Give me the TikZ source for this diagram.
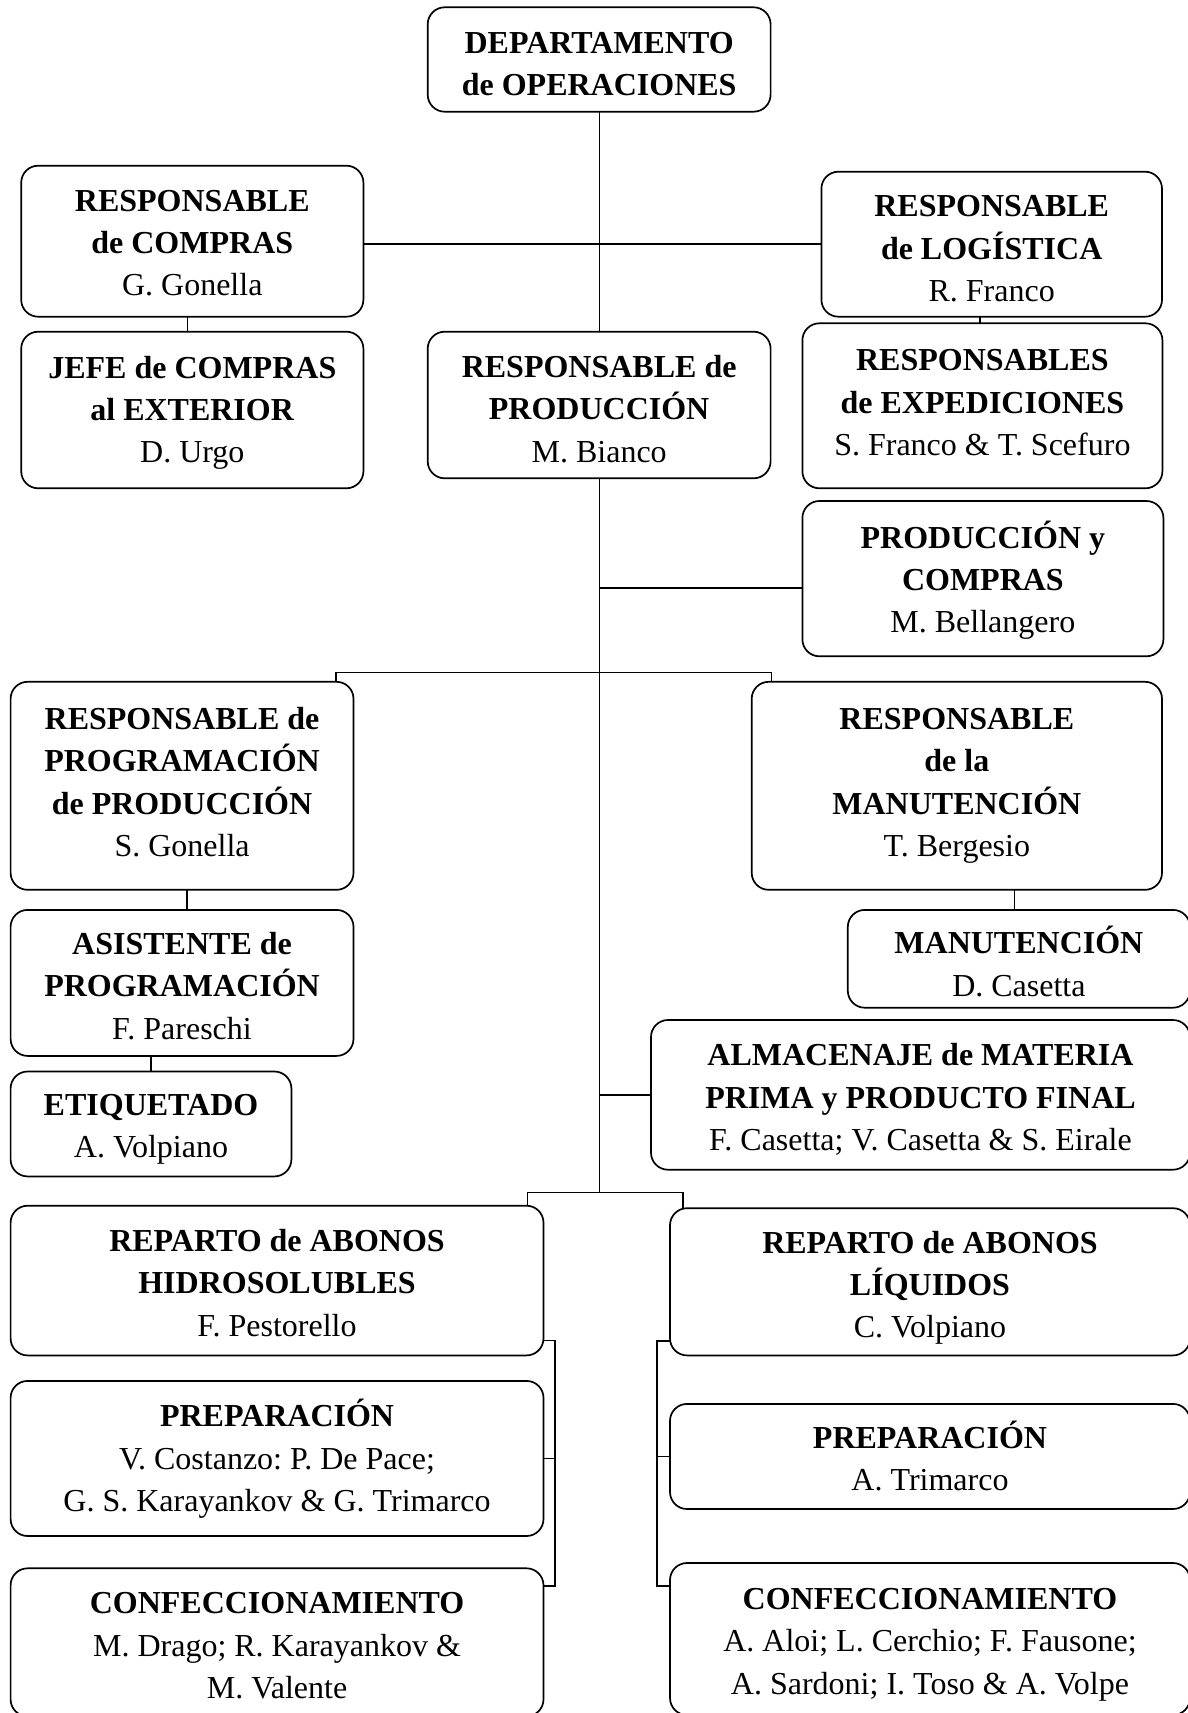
\documentclass[tikz,border=0pt]{standalone}
\usepackage{fontspec}
\setmainfont{Liberation Serif}
\usetikzlibrary{calc}
\begin{document}
\frenchspacing
\begin{tikzpicture}[x=1pt,y=-1pt,
  box/.style={draw, line width=1.7pt, rounded corners=17pt, inner sep=0pt, outer sep=0pt,
    align=center, anchor=north west, font=\fontsize{32}{42.3}\selectfont\frenchspacing, text depth=0pt},
  conn/.style={line width=1.3pt},
  thickconn/.style={line width=2.2pt}]
\fill[white] (0,0) rectangle (1187,1713);
\useasboundingbox (0,0) rectangle (1187,1713);

% boxes
\node[box, text height=71.9pt, minimum width=342.9pt, minimum height=104.4pt] (dep) at (427.7,7.3)
  {\textbf{DEPARTAMENTO}\\\textbf{de OPERACIONES}};
\node[box, text height=108.8pt, minimum width=342.2pt, minimum height=151pt] (compras) at (21.2,165.7)
  {\textbf{RESPONSABLE}\\\textbf{de COMPRAS}\\G. Gonella};
\node[box, text height=114.2pt, minimum width=340.6pt, minimum height=145pt] (log) at (821.4,171.7)
  {\textbf{RESPONSABLE}\\\textbf{de LOGÍSTICA}\\R. Franco};
\node[box, text height=105.6pt, minimum width=342.2pt, minimum height=156.6pt] (jefe) at (21.2,331.7)
  {\textbf{JEFE de COMPRAS}\\\textbf{al EXTERIOR}\\D. Urgo};
\node[box, text height=114.2pt, minimum width=342.9pt, minimum height=146.6pt] (prod) at (427.7,331.7)
  {\textbf{RESPONSABLE de}\\\textbf{PRODUCCIÓN}\\M. Bianco};
\node[box, text height=99pt, minimum width=360pt, minimum height=165pt] (exp) at (802.4,323.3)
  {\textbf{RESPONSABLES}\\\textbf{de EXPEDICIONES}\\S. Franco \& T. Scefuro};
\node[box, text height=108.2pt, minimum width=361pt, minimum height=155.3pt] (pyc) at (802.4,501)
  {\textbf{PRODUCCIÓN y}\\\textbf{COMPRAS}\\M. Bellangero};
\node[box, text height=141.3pt, minimum width=342.9pt, minimum height=208pt] (prog) at (10.6,681.8)
  {\textbf{RESPONSABLE de}\\\textbf{PROGRAMACIÓN}\\\textbf{de PRODUCCIÓN}\\S. Gonella};
\node[box, text height=141.3pt, minimum width=410.3pt, minimum height=208pt] (resman) at (751.7,681.8)
  {\textbf{RESPONSABLE}\\\textbf{de la}\\\textbf{MANUTENCIÓN}\\T. Bergesio};
\node[box, text height=112.2pt, minimum width=342.9pt, minimum height=146pt] (asist) at (10.6,909.9)
  {\textbf{ASISTENTE de}\\\textbf{PROGRAMACIÓN}\\F. Pareschi};
\node[box, text height=74.7pt, minimum width=342.2pt, minimum height=97.8pt] (manut) at (847.8,909.9)
  {\textbf{MANUTENCIÓN}\\D. Casetta};
\node[box, text height=67.7pt, minimum width=280.8pt, minimum height=104.9pt] (etiq) at (10.6,1071.5)
  {\textbf{ETIQUETADO}\\A. Volpiano};
\node[box, text height=111pt, minimum width=539pt, minimum height=149.7pt] (alm) at (651,1020)
  {\textbf{ALMACENAJE de MATERIA}\\\textbf{PRIMA y PRODUCTO FINAL}\\F. Casetta; V. Casetta \& S. Eirale};
\node[box, text height=111pt, minimum width=532.9pt, minimum height=149.7pt] (rhid) at (10.6,1205.7)
  {\textbf{REPARTO de ABONOS}\\\textbf{HIDROSOLUBLES}\\F. Pestorello};
\node[box, text height=112.2pt, minimum width=520pt, minimum height=147.2pt] (rliq) at (670,1208.2)
  {\textbf{REPARTO de ABONOS}\\\textbf{LÍQUIDOS}\\C. Volpiano};
\node[box, text height=106pt, minimum width=532.9pt, minimum height=155.1pt] (prepl) at (10.6,1380.9)
  {\textbf{PREPARACIÓN}\\V. Costanzo: P. De Pace;\\G. S. Karayankov \& G. Trimarco};
\node[box, text height=68.1pt, minimum width=520pt, minimum height=105.1pt] (prepr) at (670,1403.9)
  {\textbf{PREPARACIÓN}\\A. Trimarco};
\node[box, text height=112.2pt, minimum width=532.9pt, minimum height=148pt] (confl) at (10.6,1568.3)
  {\textbf{CONFECCIONAMIENTO}\\M. Drago; R. Karayankov \&\\M. Valente};
\node[box, text height=110pt, minimum width=520pt, minimum height=152pt] (confr) at (670,1563)
  {\textbf{CONFECCIONAMIENTO}\\A. Aloi; L. Cerchio; F. Fausone;\\A. Sardoni; I. Toso \& A. Volpe};

% junction coordinates
\coordinate (jp) at (599.15,588);
\coordinate (j2) at (599.15,672.3);
\coordinate (j3) at (599.15,1192.7);
\coordinate (lb1) at (555,1340.4);
\coordinate (lb2) at (555,1586);
\coordinate (rb1) at (657,1341);
\coordinate (rb2) at (657,1586);

% connectors
\draw[conn] (dep.south) -- (prod.north);
\draw[thickconn] (compras.east |- log.west) -- (log.west);
\draw[conn] ([xshift=-5pt]compras.south) -- ([xshift=-5pt]jefe.north);
\draw[conn] ([xshift=-2.5pt]exp.north) -- ([xshift=-2.5pt]exp.north |- log.south);
\draw[conn] (prod.south) -- (j3);
\draw[conn] (jp) -- (jp -| pyc.west);
\draw[conn] ([xshift=-17.5pt]prog.north east) |- (j2) -| ([xshift=20pt]resman.north west);
\draw[conn] ([xshift=5pt]prog.south) -- ([xshift=5pt]asist.north);
\draw[conn] (etiq.north) -- (etiq.north |- asist.south);
\draw[conn] ([xshift=-4.5pt]manut.north) -- ([xshift=-4.5pt]manut.north |- resman.south);
\draw[conn] (alm.west -| j2) -- (alm.west);
\draw[conn] ([xshift=-15.8pt]rhid.north east) |- (j3) -| ([xshift=13pt]rliq.north west);
\draw[conn] (rhid.east |- lb1) -- (lb1) -- (lb2) -- (confl.east |- lb2);
\draw[conn] (prepl.east) -- (prepl.east -| lb1);
\draw[conn] (rliq.west |- rb1) -- (rb1) -- (rb2) -- (confr.west |- rb2);
\draw[conn] (prepr.west) -- (prepr.west -| rb1);
\end{tikzpicture}
\end{document}
